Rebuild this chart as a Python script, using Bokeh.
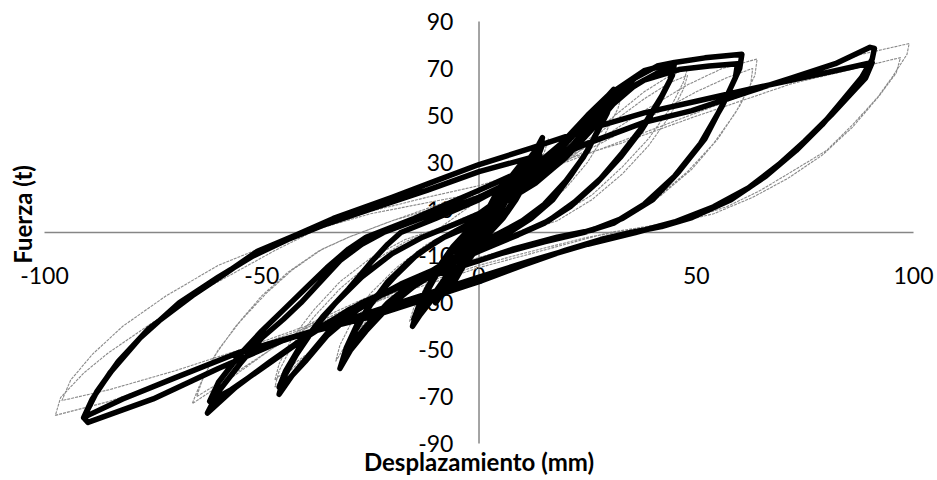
from bokeh.plotting import figure
from bokeh.models import LabelSet, ColumnDataSource, Label
from bokeh.core.properties import value
from bokeh.embed import file_html
from bokeh.resources import INLINE

# ---------------- data: experimental (thick black) cycles, (displacement mm, force t)
exp_c03 = [(0, 0), (1.5, 7), (3, 13), (2, 9), (0.5, 2), (-1, -4), (-3, -12), (-2, -8), (-0.5, -1)]
exp_c06 = [(1, 5), (3.5, 14), (6, 21), (5, 17), (3, 9), (1, 2), (-1, -5), (-3.5, -13), (-6, -21), (-5, -16), (-3, -8), (-1, -1),
           (1, 6), (3.5, 15), (6, 22), (5, 17), (3, 8), (1, 1), (-1, -6), (-3.5, -14), (-6, -22), (-5, -16), (-3, -7), (-1, 0)]
exp_c10 = [(1, 6), (4, 15), (7, 23), (10, 30), (9, 25), (7, 17), (4, 7), (2, 1), (0, -5), (-3, -12), (-7, -22), (-10, -30),
           (-9, -25), (-7, -17), (-4, -7), (-2, -1),
           (0, 5), (4, 14), (7, 22), (10, 29), (9, 24), (7, 16), (4, 6), (2, 0), (0, -6), (-3, -13), (-7, -22), (-10, -29),
           (-9, -24), (-7, -16), (-4, -6), (-2, 0)]
exp_c15 = [(0, 6), (4, 14), (8, 22), (11, 30), (13, 35), (14.6, 40.5), (14, 35), (12, 27), (9, 17), (6, 8), (3, 1), (0, -5),
           (-4, -13), (-8, -21), (-11, -29), (-13.5, -35), (-15.3, -40), (-14.5, -35), (-12.5, -27), (-9.5, -17), (-6, -8), (-3, -1),
           (0, 6), (4, 13), (8, 20), (11, 28), (13, 33), (14.5, 37), (13.5, 32), (11.5, 24), (8.5, 14), (5.5, 6), (2.5, 0), (0, -6),
           (-4, -13), (-8, -20), (-11, -28), (-13.5, -33), (-15, -37), (-14, -32), (-12, -24), (-9, -14), (-6, -6), (-3, 0)]
exp_c30 = [(0, 8), (6, 16), (12, 24), (18, 34), (23, 44), (27, 53), (31, 61), (30.5, 56), (28, 46), (25, 35), (21, 24), (17, 14),
           (12, 6), (7, 0), (0, -7), (-8, -15), (-15, -23), (-21, -32), (-26, -42), (-29.5, -50), (-32, -58), (-31, -52),
           (-28.5, -42), (-25, -31), (-21, -21), (-16, -12), (-10, -4), (-5, 1),
           (0, 6), (6, 14), (12, 22), (18, 31), (23, 40), (27, 49), (30.5, 57), (29.5, 51), (27, 42), (24, 32), (20, 22), (15, 12),
           (10, 5), (5, 0), (0, -5), (-8, -13), (-15, -21), (-21, -30), (-26, -40), (-29.5, -48), (-31.5, -55), (-30.5, -49),
           (-28, -39), (-24, -28), (-19, -18), (-14, -9), (-8, -2)]
exp_c45 = [(-3, 2), (5, 12), (13, 22), (20, 34), (26, 47), (31, 58), (36, 66), (41, 71), (45, 72.5), (44.5, 67), (42, 58),
           (38, 46), (33, 34), (28, 23), (22, 13), (16, 5), (10, 0), (2, -6), (-8, -14), (-18, -22), (-27, -31), (-34, -41),
           (-39, -52), (-43, -61), (-46, -69), (-45, -62), (-42, -52), (-38, -41), (-33, -30), (-27, -19), (-20, -9), (-13, -2),
           (-5, 4), (5, 12), (13, 21), (20, 32), (26, 44), (31, 55), (36, 63), (41, 68), (44.5, 70), (44, 65), (41.5, 56),
           (37.5, 44), (32.5, 32), (27, 21), (21, 11), (15, 4), (9, -1), (0, -8), (-10, -16), (-20, -24), (-28, -33), (-35, -44),
           (-40, -55), (-44, -63), (-46, -66), (-44.5, -59), (-41, -48), (-36, -36), (-30, -24), (-25, -13), (-21, -5), (-18, 0)]
exp_c60 = [(-10, 6), (0, 14), (10, 24), (19, 38), (25, 50), (30, 59), (38, 69), (45, 72.5), (52, 74.5), (60.5, 76), (60, 70),
           (57, 58), (52, 40), (46, 26), (40, 14), (33, 6), (26, 1), (18, -2), (8, -7), (0, -12), (-15, -20), (-27, -30),
           (-38, -42), (-48, -55), (-56, -66), (-62.5, -77), (-60, -68), (-55, -56), (-50, -45), (-45, -37), (-41, -30),
           (-36, -20), (-32, -12), (-27, -5), (-22, 0),
           (-12, 7), (0, 15), (10, 24), (18, 35), (25, 47), (31, 57), (38, 65), (46, 69.5), (53, 71), (59.5, 72), (59, 66),
           (56, 54), (51, 38), (45, 24), (38, 12), (31, 4), (24, 0), (15, -4), (5, -9), (-5, -15), (-18, -23), (-30, -33),
           (-40, -45), (-50, -58), (-57, -67), (-62, -72), (-60, -64), (-55, -52), (-50, -42), (-45, -33), (-40, -24),
           (-35, -15), (-30, -7), (-26, -2)]
exp_c90 = [(-15, 6), (0, 18), (12, 28), (25, 38), (38, 47), (49, 52), (62, 60), (72, 66), (82, 72), (90, 79), (91, 78.5),
           (90.5, 74), (88, 66), (84, 57), (79, 46), (73, 35), (66, 24), (58, 14), (49, 6.4), (42, 2.5), (35, 0), (28, -3),
           (20, -7.5), (10, -14), (0, -21), (-10, -27), (-25, -36), (-40, -43), (-55, -51), (-70, -62), (-82, -71), (-90, -78),
           (-91, -79), (-88, -68), (-83, -55), (-76, -41), (-66, -27), (-58, -17), (-51, -8), (-42, -1), (-33.5, 6), (-20, 15),
           (-10, 22), (0, 29), (12, 36), (25, 44), (38, 51), (50, 56), (62, 61), (72, 65), (82, 69), (90.5, 72.5), (89, 66),
           (86, 60), (81, 50), (75, 39), (69, 29), (62, 19), (54, 11), (45, 4.5), (36, 0), (25, -5), (12, -12), (0, -19),
           (-15, -28), (-30, -37), (-45, -46), (-60, -58), (-75, -71), (-90, -81), (-91, -79), (-89, -71), (-85, -60),
           (-78, -45), (-69, -30), (-60, -19), (-52, -10), (-44, -3), (-36, 3), (-25, 10), (-12, 18), (0, 26), (14, 33)]

# ---------------- data: second series (thin grey dashed) cycles
num_c16 = [(0, 0), (5, 14), (10, 26), (16, 40), (15, 34), (12, 24), (8, 12), (4, 3), (0, -5), (-5, -14), (-10, -25), (-16, -38),
           (-15, -32), (-12, -22), (-8, -11), (-4, -2), (0, 5)]
num_c33 = [(6, 14), (14, 26), (22, 40), (28, 51), (33, 60), (32, 53), (29, 42), (25, 30), (20, 19), (14, 9), (8, 2), (0, -6),
           (-10, -15), (-18, -25), (-25, -36), (-30, -46), (-33, -55), (-32, -48), (-29, -37), (-25, -26), (-19, -15), (-12, -5),
           (-6, 1)]
num_c48 = [(3, 9), (12, 20), (22, 34), (30, 48), (38, 60), (44, 67), (48, 70), (47, 64), (44, 53), (39, 40), (33, 28), (26, 16),
           (18, 7), (10, 1), (0, -7), (-12, -17), (-23, -28), (-32, -39), (-39, -51), (-44, -60), (-47, -66), (-46, -59),
           (-43, -48), (-38, -36), (-32, -24), (-25, -13), (-17, -4), (-9, 2),
           (0, 9), (12, 20), (22, 33), (30, 46), (38, 57), (44, 64), (48, 67), (47, 61), (44, 50), (39, 37), (33, 25), (26, 14),
           (18, 5), (10, 0), (0, -8), (-12, -18), (-23, -29), (-32, -40), (-39, -51), (-44, -58), (-47, -63), (-46, -56),
           (-43, -45), (-38, -33), (-32, -21), (-25, -11), (-17, -3), (-9, 2)]
num_c65 = [(0, 14), (15, 26), (28, 40), (38, 52), (48, 63), (56, 70), (64, 74), (63.5, 67), (60, 54), (55, 40), (49, 27),
           (42, 16), (35, 8), (27, 2), (20, -1), (5, -8), (-10, -16), (-25, -27), (-38, -38), (-48, -50), (-57, -62), (-66, -73),
           (-64.5, -66), (-61, -53), (-56, -40), (-50, -27), (-44, -17), (-37, -8), (-30, -2),
           (-20, 5), (0, 16), (15, 26), (28, 38), (40, 50), (50, 60), (57, 66), (63, 70), (62.5, 63), (59, 51), (54, 38),
           (48, 26), (41, 15), (34, 7), (26, 2), (18, -2), (5, -9), (-10, -17), (-25, -28), (-38, -39), (-48, -50), (-57, -61),
           (-65, -70), (-63.5, -62), (-60, -50), (-55, -38), (-49, -26), (-43, -16), (-36, -7), (-30, -2)]
num_c98 = [(-20, 5), (0, 18), (20, 30), (40, 44), (60, 58), (75, 68), (88, 76), (99, 80.6), (98.5, 76), (95, 66), (91.7, 57.6),
           (86, 46), (80, 35), (72, 26), (64.8, 18), (57, 11), (49.4, 6.4), (40, 3), (30, 0), (10, -10), (0, -15), (-20, -27),
           (-36, -38), (-52, -49), (-70, -62), (-85, -72), (-97.5, -78), (-96.3, -70.4), (-91, -60), (-85.5, -51.6),
           (-75.6, -39), (-62.5, -23.5), (-47, -7.7), (-36.5, 2), (-25, 9), (-12, 15), (0, 20), (16, 29), (32.6, 38),
           (49, 49), (72, 63.5), (97, 74.6), (96, 68), (92, 58), (86, 45), (79, 33), (71, 23), (63, 15), (54, 8), (45, 4),
           (35, 1), (25, -2), (10, -9), (0, -14), (-20, -26), (-40, -40), (-55, -50), (-70, -59), (-85, -67), (-96, -71.7),
           (-94, -63), (-89, -52), (-82, -40), (-72, -27), (-60, -14), (-48, -5), (-38, 1), (-25, 8), (0, 17)]

x_ticks = [-100, -50, 0, 50, 100]
x_tick_labels = ["-100", "-50", "0", "50", "100"]
y_ticks = [-90, -70, -50, -30, -10, 10, 30, 50, 70, 90]
y_tick_labels = ["-90", "-70", "-50", "-30", "-10", "10", "30", "50", "70", "90"]
x_title = "Desplazamiento (mm)"
y_title = "Fuerza (t)"

exp_pts = exp_c03 + exp_c06 + exp_c10 + exp_c15 + exp_c30 + exp_c45 + exp_c60 + exp_c90
num_pts = num_c16 + num_c33 + num_c48 + num_c65 + num_c98
exp_x = [pt[0] for pt in exp_pts]
exp_y = [pt[1] for pt in exp_pts]
num_x = [pt[0] for pt in num_pts]
num_y = [pt[1] for pt in num_pts]

FONT = "Lato"
LBL_SIZE = "23px"
TITLE_SIZE = "24px"
AX_X = (-100, 100)      # extent of the horizontal axis line
AX_Y = (-90, 90)        # extent of the vertical axis line

# the frame fills the whole canvas, so that labels outside the axis extent are not clipped
p = figure(frame_width=935, frame_height=478, x_range=(-110.13, 105.06), y_range=(-104.93, 98.96),
           x_axis_location=None, y_axis_location=None,
           min_border_left=0, min_border_right=0, min_border_top=0, min_border_bottom=0,
           output_backend="svg", toolbar_location=None)
p.grid.visible = False
p.outline_line_color = None
p.background_fill_color = "white"
p.border_fill_color = "white"

# axes crossing at the origin
p.segment(x0=[AX_X[0], 0], y0=[0, AX_Y[0]], x1=[AX_X[1], 0], y1=[0, AX_Y[1]],
          line_color="#868686", line_width=1.5, level="underlay")

# tick labels (beneath the curves, as in the reference)
XLAB_Y = -18.3
YLAB_X = -5.9
xsrc = ColumnDataSource(dict(x=x_ticks, y=[XLAB_Y] * len(x_ticks), t=x_tick_labels))
ysrc = ColumnDataSource(dict(x=[YLAB_X] * len(y_ticks), y=y_ticks, t=y_tick_labels))
p.add_layout(LabelSet(x="x", y="y", text="t", source=xsrc, text_align="center", text_baseline="middle",
                      text_font=value(FONT), text_font_size=value(LBL_SIZE), text_color="#000000", level="underlay"))
p.add_layout(LabelSet(x="x", y="y", text="t", source=ysrc, text_align="right", text_baseline="middle",
                      text_font=value(FONT), text_font_size=value(LBL_SIZE), text_color="#000000", level="underlay"))

# series
p.line(num_x, num_y, line_color="#8a8a8a", line_width=1.1, line_dash="3 1")
p.line(exp_x, exp_y, line_color="#000000", line_width=5.5, line_join="round", line_cap="round")

# axis titles
p.add_layout(Label(x=0, y=-97.7, text=x_title, text_align="center", text_baseline="middle",
                   text_font=FONT, text_font_size=TITLE_SIZE, text_font_style="bold", text_color="#000000"))
p.add_layout(Label(x=-105.06, y=7.7, text=y_title, angle=90, angle_units="deg", text_align="center",
                   text_baseline="middle", text_font=FONT, text_font_size=TITLE_SIZE, text_font_style="bold",
                   text_color="#000000"))

open("out.html", "w").write(file_html(p, INLINE))
